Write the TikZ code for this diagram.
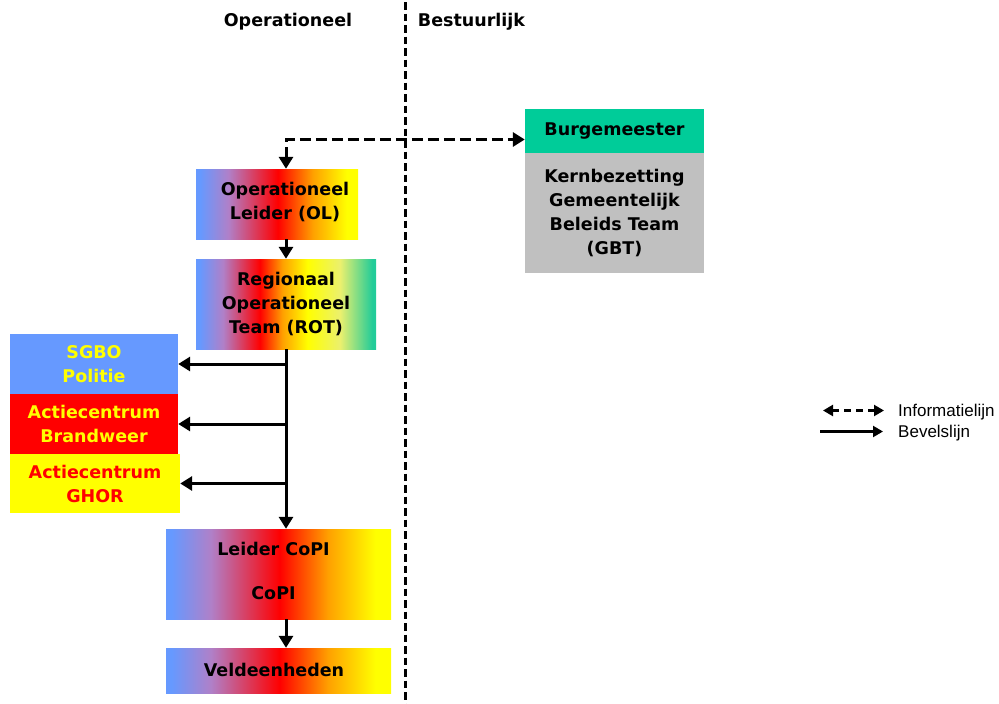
\documentclass[tikz,border=0pt]{standalone}
\usepackage{fontspec}
\setmainfont{DejaVu Sans}
\newfontfamily\legfont{Liberation Sans}
\usetikzlibrary{arrows.meta}
\definecolor{cblue}{RGB}{102,153,255}
\definecolor{clav}{RGB}{176,128,200}
\definecolor{cred}{RGB}{255,0,0}
\definecolor{corange}{RGB}{255,160,0}
\definecolor{cyellow}{RGB}{255,255,0}
\definecolor{cpale}{RGB}{235,240,110}
\definecolor{crotgreen}{RGB}{34,204,153}
\definecolor{cburg}{RGB}{0,204,153}
\definecolor{cgrey}{RGB}{192,192,192}
\pgfdeclarehorizontalshading{opgrad}{100bp}{color(0bp)=(cblue); color(26.25bp)=(cblue); color(35bp)=(clav); color(50.25bp)=(cred); color(61bp)=(corange); color(71.5bp)=(cyellow); color(100bp)=(cyellow)}
\pgfdeclarehorizontalshading{rotgrad}{100bp}{color(0bp)=(cblue); color(26bp)=(cblue); color(32.5bp)=(clav); color(42.75bp)=(cred); color(49bp)=(corange); color(56bp)=(cyellow); color(65bp)=(cpale); color(74bp)=(crotgreen); color(100bp)=(crotgreen)}
\tikzset{
  lbl/.style={font=\fontsize{17.5}{24}\selectfont\bfseries, align=center, inner sep=0pt},
  fbox/.style={lbl, rectangle, draw=none, anchor=center},
  cmd/.style={line width=3pt, -{Triangle[length=12pt,width=14pt]}},
  info/.style={line width=3pt, dash pattern=on 11pt off 5pt, {Triangle[length=12pt,width=14pt]}-{Triangle[length=12pt,width=14pt]}},
  cmdleg/.style={line width=2.2pt, -{Triangle[length=10pt,width=11pt]}},
  infoleg/.style={line width=2.2pt, dash pattern=on 7pt off 5pt, {Triangle[length=10pt,width=11pt]}-{Triangle[length=10pt,width=11pt]}},
  divider/.style={line width=2.5pt, dash pattern=on 7.5pt off 4pt},
  leg/.style={font=\fontsize{17}{20}\selectfont\legfont, inner sep=0pt}
}
\begin{document}
\begin{tikzpicture}[x=1pt,y=-1pt]
\useasboundingbox (0,0) rectangle (999,704);
% divider
\coordinate (dtop) at (405.5,2);
\coordinate (dbot) at (405.5,704);
\draw[divider] (dtop) -- (dbot);
% headers
\node[lbl] (hop) at (288,22) {Operationeel};
\node[lbl] (hbest) at (471.5,22) {Bestuurlijk};
% boxes
\node[fbox, shading=opgrad, minimum width=162pt, minimum height=70pt] (ol) at (277,204) {};
\node[lbl] (olt) at ([xshift=8pt,yshift=1.5pt]ol.center) {Operationeel\\Leider (OL)};
\node[fbox, shading=rotgrad, minimum width=180pt, minimum height=90pt] (rot) at (286,304) {Regionaal\\Operationeel\\Team (ROT)};
\node[fbox, fill=cburg, minimum width=179pt, minimum height=44pt] (burg) at (614.5,131) {Burgemeester};
\node[fbox, fill=cgrey, minimum width=179pt, minimum height=120pt] (gbt) at (614.5,213) {Kernbezetting\\Gemeentelijk\\Beleids Team\\(GBT)};
\node[fbox, fill=cblue, text=cyellow, minimum width=168pt, minimum height=60pt] (sgbo) at (94,364) {SGBO\\Politie};
\node[fbox, fill=cred, text=cyellow, minimum width=168pt, minimum height=60pt] (brand) at (94,424) {Actiecentrum\\Brandweer};
\node[fbox, fill=cyellow, text=cred, minimum width=170pt, minimum height=59pt] (ghor) at (95,483.5) {Actiecentrum\\GHOR};
\node[fbox, shading=opgrad, minimum width=225pt, minimum height=90pt] (copi) at (278.5,574) {};
\node[lbl] (copit) at ([xshift=-5pt,yshift=3pt]copi.center) {Leider CoPI\\[20pt]CoPI};
\node[fbox, shading=opgrad, minimum width=225pt, minimum height=45pt] (veld) at (278.5,670.5) {};
\node[lbl] (veldt) at ([xshift=-4.5pt,yshift=1pt]veld.center) {Veldeenheden};
% connectors
\coordinate (tr) at (286,0);
\coordinate (iy) at (0,139.5);
\draw[info] (ol.north -| tr) |- (burg.west |- iy);
\draw[cmd] (ol.south -| tr) -- (rot.north -| tr);
\draw[cmd] (rot.south -| tr) -- (copi.north -| tr);
\draw[cmd] (sgbo.east -| tr) -- (sgbo.east);
\draw[cmd] (brand.east -| tr) -- (brand.east);
\draw[cmd] (ghor.east -| tr) -- (ghor.east);
\draw[cmd] (copi.south -| tr) -- (veld.north -| tr);
% legend
\coordinate (la1) at (823,410.5);
\coordinate (la2) at (884,410.5);
\draw[infoleg] (la1) -- (la2);
\node[leg, anchor=west] (lt1) at (898,412) {Informatielijn};
\coordinate (lb1) at (820,431.5);
\coordinate (lb2) at (883,431.5);
\draw[cmdleg] (lb1) -- (lb2);
\node[leg, anchor=west] (lt2) at (898,433) {Bevelslijn};
\end{tikzpicture}
\end{document}
